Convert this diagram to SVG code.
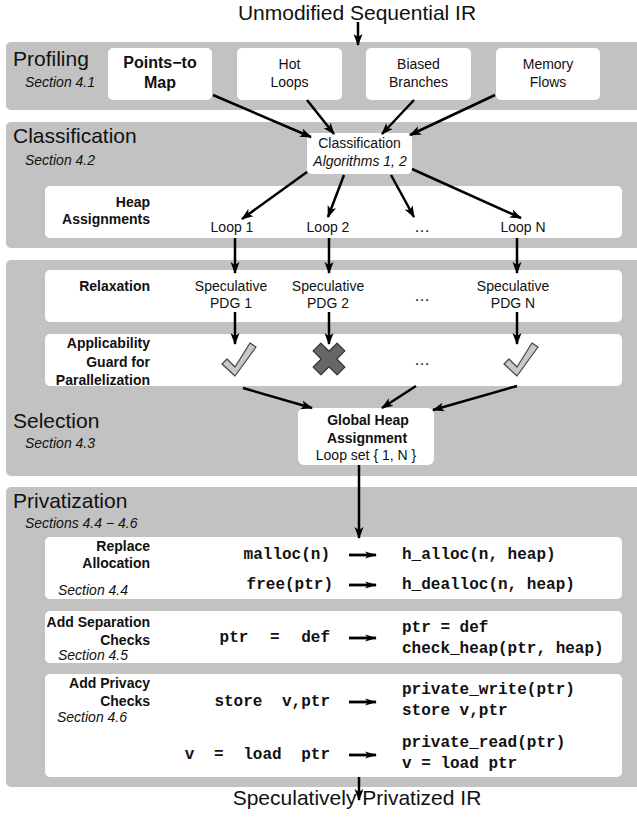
<svg xmlns="http://www.w3.org/2000/svg" width="637" height="828" viewBox="0 0 637 828">
<style>
.panel{fill:#c2c2c2}
.box{fill:#fff}
.t{font-family:"Liberation Sans",Arial,sans-serif;fill:#111}
.h{font-size:21px}
.sec{font-size:14px;font-style:italic}
.b{font-size:14px;font-weight:bold}
.r{font-size:14px}
.d{font-size:16px}
.m{text-anchor:middle}
.e{text-anchor:end}
.code{font-family:"Liberation Mono","Courier New",monospace;font-weight:bold;font-size:16px;fill:#111}
.c{stroke:#000;stroke-width:2.5;fill:none;marker-end:url(#ah)}
.s{stroke:#000;stroke-width:2.8;fill:none;marker-end:url(#sh)}
</style>
<defs>
<marker id="ah" viewBox="0 0 12 10" refX="11" refY="5" markerWidth="12" markerHeight="10" markerUnits="userSpaceOnUse" orient="auto">
<path d="M0,0.5 L12,5 L0,9.5 L3,5 z" fill="#000"/>
</marker>
<marker id="sh" viewBox="0 0 12 8" refX="11" refY="4" markerWidth="12" markerHeight="8" markerUnits="userSpaceOnUse" orient="auto">
<path d="M0,0.5 L12,4 L0,7.5 L3,4 z" fill="#000"/>
</marker>
</defs>
<rect width="637" height="828" fill="#fff"/>

<text class="t h m" x="357" y="20">Unmodified Sequential IR</text>

<g id="profiling">
<rect class="panel" x="6" y="42" width="640" height="68" rx="5"/>
<text class="t h" x="13" y="66">Profiling</text>
<text class="t sec" x="25" y="87">Section 4.1</text>
</g>
<g id="points-to-map">
<rect class="box" x="108" y="48" width="104" height="52" rx="5"/>
<text class="t m" x="160" y="68" style="font-size:16px;font-weight:bold">Points−to</text>
<text class="t m" x="160" y="88" style="font-size:16px;font-weight:bold">Map</text>
</g>
<g id="hot-loops">
<rect class="box" x="237" y="48" width="105" height="52" rx="5"/>
<text class="t r m" x="289.5" y="69">Hot</text>
<text class="t r m" x="289.5" y="87">Loops</text>
</g>
<g id="biased-branches">
<rect class="box" x="366" y="48" width="105" height="52" rx="5"/>
<text class="t r m" x="418.5" y="69">Biased</text>
<text class="t r m" x="418.5" y="87">Branches</text>
</g>
<g id="memory-flows">
<rect class="box" x="496" y="48" width="104" height="52" rx="5"/>
<text class="t r m" x="548" y="69">Memory</text>
<text class="t r m" x="548" y="87">Flows</text>
</g>

<g id="classification-panel">
<rect class="panel" x="6" y="122" width="640" height="126" rx="5"/>
<text class="t h" x="13" y="143">Classification</text>
<text class="t sec" x="25" y="165">Section 4.2</text>
</g>
<g id="classification">
<rect class="box" x="307" y="133" width="105" height="41" rx="5"/>
<text class="t r m" x="359.5" y="148">Classification</text>
<text class="t sec m" x="360" y="166">Algorithms 1, 2</text>
</g>
<g id="heap-assignments">
<rect class="box" x="45" y="186" width="577" height="52" rx="5"/>
<text class="t b e" x="150" y="207">Heap</text>
<text class="t b e" x="150" y="224">Assignments</text>
<text class="t r m" x="232" y="232">Loop 1</text>
<text class="t r m" x="328" y="232">Loop 2</text>
<text class="t d m" x="422" y="232">…</text>
<text class="t r m" x="523" y="232">Loop N</text>
</g>

<g id="selection-panel">
<rect class="panel" x="6" y="260" width="640" height="216" rx="5"/>
<text class="t h" x="13" y="428">Selection</text>
<text class="t sec" x="25" y="448">Section 4.3</text>
</g>
<g id="relaxation">
<rect class="box" x="45" y="270" width="577" height="52" rx="5"/>
<text class="t b e" x="150" y="291">Relaxation</text>
<text class="t r m" x="231" y="291">Speculative</text>
<text class="t r m" x="231" y="308">PDG 1</text>
<text class="t r m" x="328" y="291">Speculative</text>
<text class="t r m" x="328" y="308">PDG 2</text>
<text class="t d m" x="422" y="301">…</text>
<text class="t r m" x="513" y="291">Speculative</text>
<text class="t r m" x="513" y="308">PDG N</text>
</g>
<g id="applicability-guard">
<rect class="box" x="45" y="334" width="577" height="52" rx="5"/>
<text class="t b e" x="150" y="348">Applicability</text>
<text class="t b e" x="150" y="367">Guard for</text>
<text class="t b e" x="150" y="385">Parallelization</text>
<polygon points="235,376 222,364 227,359 235,367 250,343 256,347" fill="#c8c8c8" stroke="#444" stroke-width="1.2" stroke-linejoin="round"/>
<polygon transform="translate(329,359) rotate(45)" points="-5.5,-17 5.5,-17 5.5,-5.5 17,-5.5 17,5.5 5.5,5.5 5.5,17 -5.5,17 -5.5,5.5 -17,5.5 -17,-5.5 -5.5,-5.5" fill="#666" stroke="#333" stroke-width="1.2" stroke-linejoin="round"/>
<text class="t d m" x="422" y="365">…</text>
<polygon points="517,376 504,364 509,359 517,367 532,343 538,347" fill="#c8c8c8" stroke="#444" stroke-width="1.2" stroke-linejoin="round"/>
</g>
<g id="global-heap-assignment">
<rect class="box" x="298" y="408" width="136" height="57" rx="6"/>
<text class="t b m" x="368" y="425">Global Heap</text>
<text class="t b m" x="367" y="443">Assignment</text>
<text class="t r m" x="366" y="460">Loop set { 1, N }</text>
</g>

<g id="privatization-panel">
<rect class="panel" x="6" y="487" width="640" height="300" rx="5"/>
<text class="t h" x="13" y="508">Privatization</text>
<text class="t sec" x="25" y="528">Sections 4.4 − 4.6</text>
</g>
<g id="replace-allocation">
<rect class="box" x="45" y="537" width="577" height="62" rx="5"/>
<text class="t b e" x="150" y="551">Replace</text>
<text class="t b e" x="150" y="568">Allocation</text>
<text class="t sec" x="58" y="595">Section 4.4</text>
<text class="code e" x="330" y="559">malloc(n)</text>
<text class="code e" x="333" y="589">free(ptr)</text>
<text class="code" x="402" y="559">h_alloc(n, heap)</text>
<text class="code" x="402" y="589">h_dealloc(n, heap)</text>
</g>
<g id="separation-checks">
<rect class="box" x="45" y="611" width="577" height="52" rx="5"/>
<text class="t b e" x="150" y="627">Add Separation</text>
<text class="t b e" x="150" y="645">Checks</text>
<text class="t sec" x="58" y="660">Section 4.5</text>
<text class="code e" x="330" y="642" style="word-spacing:12px">ptr = def</text>
<text class="code" x="402" y="632">ptr = def</text>
<text class="code" x="402" y="653">check_heap(ptr, heap)</text>
</g>
<g id="privacy-checks">
<rect class="box" x="45" y="674" width="577" height="103" rx="5"/>
<text class="t b e" x="150" y="688">Add Privacy</text>
<text class="t b e" x="150" y="706">Checks</text>
<text class="t sec" x="57" y="722">Section 4.6</text>
<text class="code e" x="330" y="706" style="word-spacing:10px">store v,ptr</text>
<text class="code e" x="330" y="759" style="word-spacing:10px">v = load ptr</text>
<text class="code" x="402" y="694">private_write(ptr)</text>
<text class="code" x="402" y="715">store v,ptr</text>
<text class="code" x="402" y="747">private_read(ptr)</text>
<text class="code" x="402" y="768">v = load ptr</text>
</g>

<text class="t h m" x="357" y="805">Speculatively Privatized IR</text>

<g id="connectors">
<path class="c" d="M358,22 V45"/>
<path class="c" d="M213,95 L311,137"/>
<path class="c" d="M307,100 L334,134"/>
<path class="c" d="M414,100 L382,134"/>
<path class="c" d="M495,95 L410,135"/>
<path class="c" d="M307,172 L242,219"/>
<path class="c" d="M344,175 L328,217"/>
<path class="c" d="M391,175 L414,217"/>
<path class="c" d="M412,169 L521,218"/>
<path class="c" d="M235,238 V273"/>
<path class="c" d="M329,238 V273"/>
<path class="c" d="M517,238 V273"/>
<path class="c" d="M235,312 V344"/>
<path class="c" d="M329,312 V344"/>
<path class="c" d="M517,312 V344"/>
<path class="c" d="M243,388 L312,408"/>
<path class="c" d="M416,386 L382,408"/>
<path class="c" d="M517,386 L433,410"/>
<path class="c" d="M359,465 V538"/>
<path class="s" d="M349,555 H376"/>
<path class="s" d="M349,585 H376"/>
<path class="s" d="M349,638 H376"/>
<path class="s" d="M349,702 H376"/>
<path class="s" d="M349,755 H376"/>
<path class="c" d="M359,777 V800"/>
</g>
</svg>
